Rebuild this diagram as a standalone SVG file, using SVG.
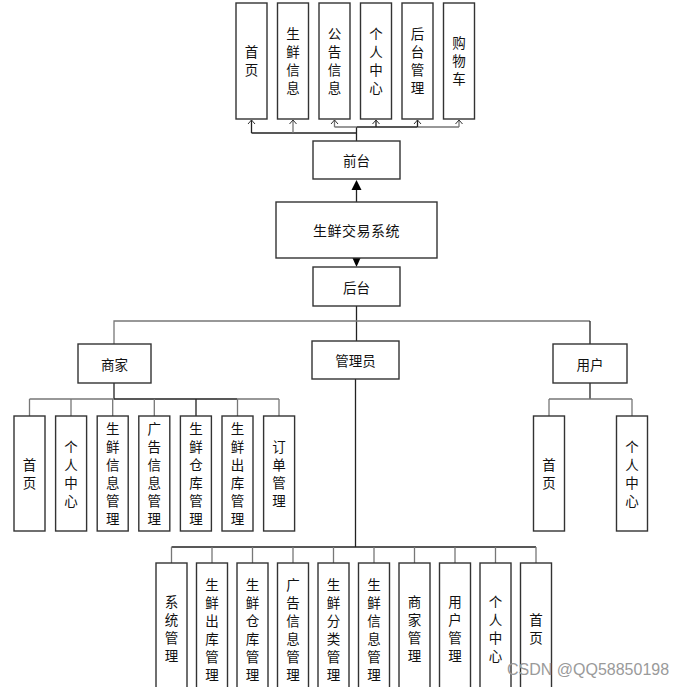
<svg xmlns="http://www.w3.org/2000/svg" width="683" height="687" viewBox="0 0 683 687">
<defs>
<style>
.box{fill:#fff;stroke:#333;stroke-width:1.4}
.t{font-family:"Noto Sans CJK SC","Liberation Sans",sans-serif;font-size:13.5px;fill:#111;text-anchor:middle;dominant-baseline:central}
.v{font-family:"Noto Sans CJK SC","Liberation Sans",sans-serif;font-size:13.5px;fill:#111;text-anchor:middle;writing-mode:vertical-rl;text-orientation:upright;letter-spacing:4.5px}
.ln{fill:none;stroke:#222;stroke-width:1.3}
.lg{fill:none;stroke:#777;stroke-width:1.3}
.ah{fill:none;stroke:#333;stroke-width:1}
.wm{font-family:"Liberation Sans",Arial,sans-serif;font-size:16px;fill:#9a9a9a}
</style>
</defs>
<rect width="683" height="687" fill="#fff"/>

<g id="connectors">
  <path class="ln" d="M356.5 141V127M251.5 133H356.5M356.5 127H417.5"/>
  <path class="lg" d="M334.5 127H356.5M417.5 127H459"/>
  <path class="ln" d="M251.5 133V120M376 127V120M417.5 127V120"/>
  <path class="lg" d="M293 133V120M334.5 127V120M459 127V120"/>
  <path class="ah" d="M248 124L251.5 120L255 124M289.5 124L293 120L296.5 124M331 124L334.5 120L338 124M372.5 124L376 120L379.5 124M414 124L417.5 120L421 124M455.5 124L459 120L462.5 124"/>
  <path class="ln" d="M356.5 202V190"/>
  <polygon points="356.5,180 351.5,190 361.5,190" fill="#000"/>
  <polygon points="356.5,267 352,257 361,257" fill="#000"/>
  <path class="ln" d="M356.5 306V341"/>
  <path class="lg" d="M114 344V321H356.5M356.5 321H590"/>
  <path class="ln" d="M590 321V344"/>
  <path class="ln" d="M114 383V399M114 399H237.5M196 399V416"/>
  <path class="lg" d="M29.5 399H114M237.5 399H279M29.5 399V416M71 399V416M112.7 399V416M154.3 399V416M237.5 399V416M279 399V416"/>
  <path class="ln" d="M590 383V399"/>
  <path class="lg" d="M549 399H632M549 399V416M632 399V416"/>
  <path class="ln" d="M355.5 379V547M171.5 547H536"/>
  <path class="lg" d="M171.5 547V563M212 547V563M252.5 547V563M293 547V563M333.5 547V563M374 547V563M414.5 547V563M455 547V563M495.5 547V563M536 547V563"/>
</g>

<g id="top-modules">
  <g id="n-shouye1"><rect class="box" x="236" y="3" width="31" height="116"/><text class="v" x="251.5" y="63.25">首页</text></g>
  <g id="n-sxxx1"><rect class="box" x="277.5" y="3" width="31" height="116"/><text class="v" x="293" y="63.25">生鲜信息</text></g>
  <g id="n-ggxx"><rect class="box" x="319" y="3" width="31" height="116"/><text class="v" x="334.5" y="63.25">公告信息</text></g>
  <g id="n-grzx1"><rect class="box" x="360.5" y="3" width="31" height="116"/><text class="v" x="376" y="63.25">个人中心</text></g>
  <g id="n-htgl"><rect class="box" x="402" y="3" width="31" height="116"/><text class="v" x="417.5" y="63.25">后台管理</text></g>
  <g id="n-gwc"><rect class="box" x="443.5" y="3" width="31" height="116"/><text class="v" x="459" y="63.25">购物车</text></g>
</g>

<g id="n-qiantai"><rect class="box" x="313" y="141" width="87" height="38"/><text class="t" x="356.5" y="160">前台</text></g>
<g id="n-system"><rect class="box" x="276" y="202" width="161" height="56"/><text class="t" x="356.5" y="230" style="font-size:14px;letter-spacing:0.5px">生鲜交易系统</text></g>
<g id="n-houtai"><rect class="box" x="313" y="267" width="87" height="39"/><text class="t" x="356.5" y="286.5">后台</text></g>
<g id="n-shangjia"><rect class="box" x="78" y="344" width="73" height="39"/><text class="t" x="114.5" y="363.5">商家</text></g>
<g id="n-admin"><rect class="box" x="312" y="341" width="87" height="38"/><text class="t" x="355.5" y="360">管理员</text></g>
<g id="n-user"><rect class="box" x="553" y="344" width="74" height="39"/><text class="t" x="590" y="363.5">用户</text></g>

<g id="merchant-modules">
  <g id="m1"><rect class="box" x="14" y="416" width="31" height="115"/><text class="v" x="29.5" y="475.75">首页</text></g>
  <g id="m2"><rect class="box" x="55.6" y="416" width="31" height="115"/><text class="v" x="71.1" y="475.75">个人中心</text></g>
  <g id="m3"><rect class="box" x="97.2" y="416" width="31" height="115"/><text class="v" x="112.7" y="475.75">生鲜信息管理</text></g>
  <g id="m4"><rect class="box" x="138.8" y="416" width="31" height="115"/><text class="v" x="154.3" y="475.75">广告信息管理</text></g>
  <g id="m5"><rect class="box" x="180.4" y="416" width="31" height="115"/><text class="v" x="195.9" y="475.75">生鲜仓库管理</text></g>
  <g id="m6"><rect class="box" x="222" y="416" width="31" height="115"/><text class="v" x="237.5" y="475.75">生鲜出库管理</text></g>
  <g id="m7"><rect class="box" x="263.6" y="416" width="31" height="115"/><text class="v" x="279.1" y="475.75">订单管理</text></g>
</g>

<g id="user-modules">
  <g id="u1"><rect class="box" x="533.5" y="416" width="31" height="115"/><text class="v" x="549" y="475.75">首页</text></g>
  <g id="u2"><rect class="box" x="616.5" y="416" width="31" height="115"/><text class="v" x="632" y="475.75">个人中心</text></g>
</g>

<g id="admin-modules">
  <g id="a1"><rect class="box" x="156" y="563" width="31" height="140"/><text class="v" x="171.5" y="631">系统管理</text></g>
  <g id="a2"><rect class="box" x="196.5" y="563" width="31" height="140"/><text class="v" x="212" y="632.25">生鲜出库管理</text></g>
  <g id="a3"><rect class="box" x="237" y="563" width="31" height="140"/><text class="v" x="252.5" y="632.25">生鲜仓库管理</text></g>
  <g id="a4"><rect class="box" x="277.5" y="563" width="31" height="140"/><text class="v" x="293" y="632.25">广告信息管理</text></g>
  <g id="a5"><rect class="box" x="318" y="563" width="31" height="140"/><text class="v" x="333.5" y="632.25">生鲜分类管理</text></g>
  <g id="a6"><rect class="box" x="358.5" y="563" width="31" height="140"/><text class="v" x="374" y="632.25">生鲜信息管理</text></g>
  <g id="a7"><rect class="box" x="399" y="563" width="31" height="140"/><text class="v" x="414.5" y="631">商家管理</text></g>
  <g id="a8"><rect class="box" x="439.5" y="563" width="31" height="140"/><text class="v" x="455" y="631">用户管理</text></g>
  <g id="a9"><rect class="box" x="480" y="563" width="31" height="140"/><text class="v" x="495.5" y="631">个人中心</text></g>
  <g id="a10"><rect class="box" x="520.5" y="563" width="31" height="140"/><text class="v" x="536" y="631.5">首页</text></g>
</g>

<text class="wm" x="507" y="675">CSDN @QQ58850198</text>
</svg>
